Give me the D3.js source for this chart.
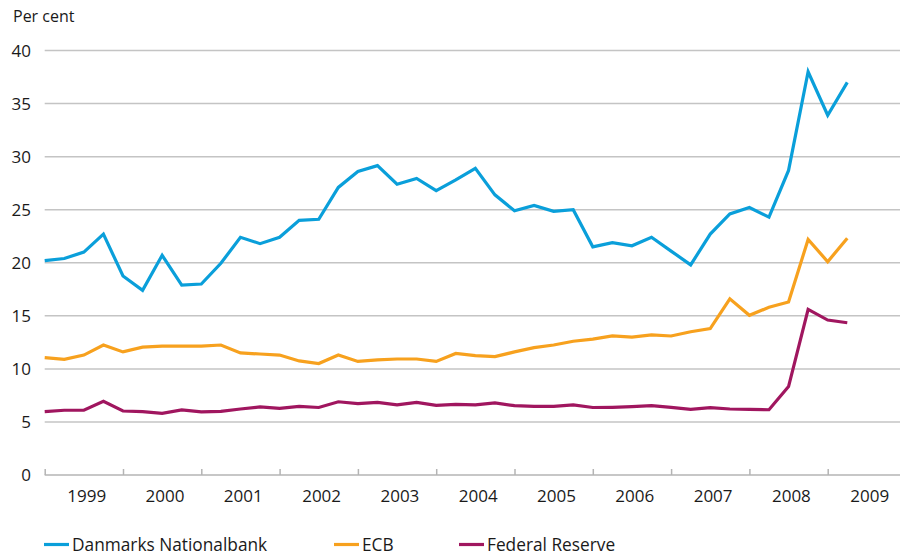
<!DOCTYPE html>
<html>
<head>
<meta charset="utf-8">
<script src="https://cdn.jsdelivr.net/npm/d3@7"></script>
<style>
  body { margin: 0; background: #fff; }
  text { font-family: "Open Sans", "Noto Sans", sans-serif; fill: #1a1a1a; }
</style>
</head>
<body>
<svg id="canvas"></svg>
<script>
// quarterly observations, 1999 Q1 to 2009 Q2
const startYear = 1999
const years = d3.range(1999, 2010)
const yTicks = [0, 5, 10, 15, 20, 25, 30, 35, 40]

const danmarks = [20.2, 20.4, 21.0, 22.7, 18.75, 17.4, 20.7, 17.9, 18.0, 19.95, 22.4, 21.8, 22.4, 24.0,
    24.1, 27.1, 28.6, 29.15, 27.4, 27.95, 26.8, 27.8, 28.9, 26.4, 24.9, 25.4, 24.85, 25.0, 21.5, 21.9,
    21.6, 22.4, 21.1, 19.8, 22.7, 24.6, 25.2, 24.3, 28.7, 38.0, 33.9, 37.0]
const ecb = [11.06, 10.9, 11.3, 12.25, 11.6, 12.05, 12.15, 12.15, 12.15, 12.25, 11.5, 11.4, 11.3, 10.75,
    10.5, 11.3, 10.7, 10.85, 10.93, 10.93, 10.7, 11.45, 11.25, 11.15, 11.6, 12.0, 12.25, 12.6, 12.8, 13.1,
    13.0, 13.2, 13.1, 13.5, 13.8, 16.6, 15.05, 15.8, 16.3, 22.2, 20.1, 22.3]
const fed = [5.97, 6.1, 6.1, 6.94, 6.03, 5.97, 5.81, 6.13, 5.94, 6.0, 6.22, 6.41, 6.28, 6.47, 6.36,
    6.9, 6.72, 6.85, 6.6, 6.85, 6.57, 6.66, 6.6, 6.79, 6.53, 6.47, 6.47, 6.6, 6.36, 6.38, 6.44, 6.53,
    6.38, 6.19, 6.35, 6.22, 6.19, 6.15, 8.33, 15.6, 14.6, 14.35]

const series = [
    { name: 'Danmarks Nationalbank', values: danmarks, color: '#0a9fda', legendX: 44 },
    { name: 'ECB', values: ecb, color: '#f7a11e', legendX: 334 },
    { name: 'Federal Reserve', values: fed, color: '#a0165f', legendX: 459 }
]

const width = 903, height = 557
const svg = d3.select('#canvas').attr('width', width).attr('height', height)

const left = 44.7, right = 900
const x = d3.scaleLinear().domain([1999, 2010]).range([left, left + 11 * 78.3])
const y = d3.scaleLinear().domain([0, 40]).range([475, 50.5])

// gridlines
svg.append('g')
    .selectAll('line')
    .data(yTicks.filter(d => d > 0))
    .enter()
    .append('line')
        .attr('x1', left)
        .attr('x2', right)
        .attr('y1', d => y(d))
        .attr('y2', d => y(d))
        .attr('stroke', '#c4c4c4')
        .attr('stroke-width', 1.5)

// y labels
svg.append('g')
    .selectAll('text')
    .data(yTicks)
    .enter()
    .append('text')
        .attr('x', 31)
        .attr('y', d => y(d))
        .attr('dy', '0.36em')
        .attr('text-anchor', 'end')
        .attr('font-size', 17)
        .text(d => d)

svg.append('text')
    .attr('x', 13)
    .attr('y', 22)
    .attr('font-size', 16)
    .text('Per cent')

// x axis: ticks at year starts pointing up, labels centred in each year
const tickAxis = d3.axisBottom(x).tickValues(years).tickSize(-6).tickFormat('')
const gTicks = svg.append('g').attr('transform', `translate(0, ${y(0)})`).call(tickAxis)
gTicks.select('.domain').remove()
gTicks.selectAll('.tick line').attr('stroke', '#b4b4b4').attr('stroke-width', 1.5)
svg.append('line')
    .attr('x1', left).attr('x2', right)
    .attr('y1', y(0)).attr('y2', y(0))
    .attr('stroke', '#b4b4b4').attr('stroke-width', 1.5)

const labelAxis = d3.axisBottom(x).tickValues(years.map(d => d + 0.53)).tickSize(0)
    .tickPadding(15).tickFormat(d => Math.floor(d))
const gLabels = svg.append('g').attr('transform', `translate(0, ${y(0)})`).call(labelAxis)
gLabels.select('.domain').remove()
gLabels.selectAll('text')
    .attr('font-size', 17)
    .attr('font-family', '"Open Sans", "Noto Sans", sans-serif')
    .attr('fill', '#1a1a1a')

// lines
const line = d3.line()
    .x((d, i) => x(startYear + i / 4))
    .y(d => y(d))

svg.append('g')
    .selectAll('path')
    .data(series)
    .enter()
    .append('path')
        .attr('d', d => line(d.values))
        .attr('fill', 'none')
        .attr('stroke', d => d.color)
        .attr('stroke-width', 3.2)
        .attr('stroke-linejoin', 'miter')

// legend
const legend = svg.append('g')
    .selectAll('g')
    .data(series)
    .enter()
    .append('g')
        .attr('transform', d => `translate(${d.legendX}, 544.5)`)

legend.append('line')
    .attr('x1', 0).attr('x2', 25)
    .attr('stroke', d => d.color)
    .attr('stroke-width', 3.2)

legend.append('text')
    .attr('x', 28)
    .attr('y', 6.5)
    .attr('font-size', 17.3)
    .text(d => d.name)
</script>
</body>
</html>
